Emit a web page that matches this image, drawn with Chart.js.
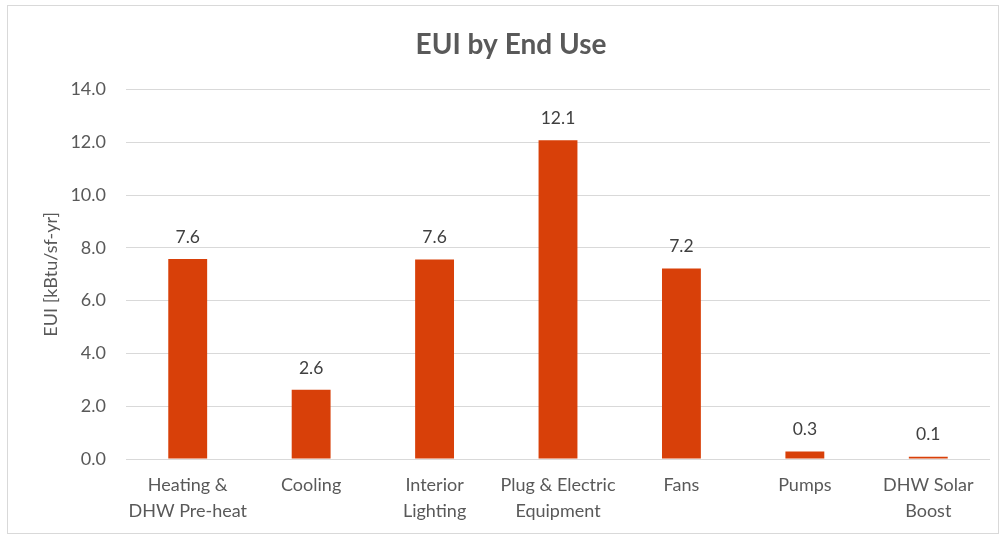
<!DOCTYPE html>
<html>
<head>
<meta charset="utf-8">
<script src="https://cdn.jsdelivr.net/npm/chart.js@4/dist/chart.umd.min.js"></script>
<style>
  html, body { margin: 0; padding: 0; background: #fff; width: 1004px; height: 537px; overflow: hidden; }
  #box { position: absolute; left: 7px; top: 5px; width: 992px; height: 529px; border: 1px solid #d9d9d9; box-sizing: border-box; }
  canvas { display: block; }
</style>
</head>
<body>
<div id="box"><canvas id="c"></canvas></div>
<script>
const categories = [
  ["Heating &", "DHW Pre-heat"],
  ["Cooling"],
  ["Interior", "Lighting"],
  ["Plug & Electric", "Equipment"],
  ["Fans"],
  ["Pumps"],
  ["DHW Solar", "Boost"]
];
const euiValues = [7.58, 2.62, 7.56, 12.08, 7.22, 0.28, 0.09];
const yTicks = [0, 2, 4, 6, 8, 10, 12, 14];

const FONT = "Lato, 'Open Sans', sans-serif";

const dataLabels = {
  id: 'dataLabels',
  afterDatasetsDraw(chart) {
    const ctx = chart.ctx;
    const meta = chart.getDatasetMeta(0);
    ctx.save();
    ctx.font = "17.5px " + FONT;
    ctx.fillStyle = "#404040";
    ctx.textAlign = "center";
    ctx.textBaseline = "middle";
    meta.data.forEach((el, i) => {
      const v = chart.data.datasets[0].data[i];
      ctx.fillText(v.toFixed(1), el.x, el.y - 22);
    });
    ctx.restore();
  }
};

new Chart(document.getElementById('c'), {
  type: 'bar',
  data: {
    labels: categories,
    datasets: [{
      data: euiValues,
      backgroundColor: '#D84009',
      borderWidth: 0,
      categoryPercentage: 1.0,
      barPercentage: 0.315
    }]
  },
  options: {
    responsive: true,
    maintainAspectRatio: false,
    animation: false,
    layout: { padding: { top: 10, right: 8, left: 24, bottom: 0 } },
    plugins: {
      legend: { display: false },
      tooltip: { enabled: false },
      title: {
        display: true,
        text: 'EUI by End Use',
        color: '#595959',
        font: { family: FONT, size: 28, weight: 'bold' },
        padding: { top: 12, bottom: 28 }
      }
    },
    scales: {
      x: {
        grid: { display: false, drawTicks: false },
        border: { display: false },
        ticks: {
          color: '#595959',
          font: { family: FONT, size: 18, lineHeight: 1.4 },
          padding: 14,
          maxRotation: 0,
          autoSkip: false
        },
        afterFit(s) { s.height = 74; }
      },
      y: {
        min: 0,
        max: 14,
        afterBuildTicks(s) { s.ticks = yTicks.map(v => ({ value: v })); },
        grid: { color: '#d9d9d9', lineWidth: 1, drawTicks: false },
        border: { display: false },
        ticks: {
          color: '#595959',
          font: { family: FONT, size: 18 },
          padding: 20,
          callback: v => Number(v).toFixed(1)
        },
        title: {
          display: true,
          text: 'EUI [kBtu/sf-yr]',
          color: '#595959',
          font: { family: FONT, size: 18 },
          padding: { top: 8, bottom: 0 }
        },
        afterFit(s) { s.width = 94; }
      }
    }
  },
  plugins: [dataLabels]
});
</script>
</body>
</html>
